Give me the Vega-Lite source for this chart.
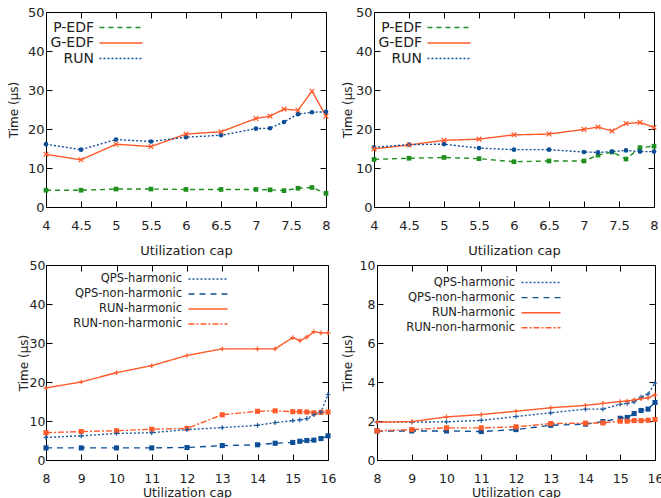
{
  "$schema": "https://vega.github.io/schema/vega-lite/v6.json",
  "padding": {"left": 6, "top": 5, "right": 0, "bottom": 0},
  "background": "white",
  "datasets": {
    "p1": [
      {"x": 4, "s": "P-EDF", "y": 4.3}, {"x": 4.5, "s": "P-EDF", "y": 4.3}, {"x": 5, "s": "P-EDF", "y": 4.6}, {"x": 5.5, "s": "P-EDF", "y": 4.6}, {"x": 6, "s": "P-EDF", "y": 4.5}, {"x": 6.5, "s": "P-EDF", "y": 4.5}, {"x": 7, "s": "P-EDF", "y": 4.5}, {"x": 7.2, "s": "P-EDF", "y": 4.4}, {"x": 7.4, "s": "P-EDF", "y": 4.2}, {"x": 7.6, "s": "P-EDF", "y": 4.8}, {"x": 7.8, "s": "P-EDF", "y": 5.0}, {"x": 8, "s": "P-EDF", "y": 3.5},
      {"x": 4, "s": "G-EDF", "y": 13.5}, {"x": 4.5, "s": "G-EDF", "y": 12.1}, {"x": 5, "s": "G-EDF", "y": 16.1}, {"x": 5.5, "s": "G-EDF", "y": 15.5}, {"x": 6, "s": "G-EDF", "y": 18.7}, {"x": 6.5, "s": "G-EDF", "y": 19.3}, {"x": 7, "s": "G-EDF", "y": 22.7}, {"x": 7.2, "s": "G-EDF", "y": 23.3}, {"x": 7.4, "s": "G-EDF", "y": 25.1}, {"x": 7.6, "s": "G-EDF", "y": 24.8}, {"x": 7.8, "s": "G-EDF", "y": 29.7}, {"x": 8, "s": "G-EDF", "y": 23.3},
      {"x": 4, "s": "RUN", "y": 16.1}, {"x": 4.5, "s": "RUN", "y": 14.7}, {"x": 5, "s": "RUN", "y": 17.3}, {"x": 5.5, "s": "RUN", "y": 16.8}, {"x": 6, "s": "RUN", "y": 17.9}, {"x": 6.5, "s": "RUN", "y": 18.4}, {"x": 7, "s": "RUN", "y": 20.1}, {"x": 7.2, "s": "RUN", "y": 20.2}, {"x": 7.4, "s": "RUN", "y": 21.8}, {"x": 7.6, "s": "RUN", "y": 23.8}, {"x": 7.8, "s": "RUN", "y": 24.3}, {"x": 8, "s": "RUN", "y": 24.4}
    ],
    "p2": [
      {"x": 4, "s": "P-EDF", "y": 12.2}, {"x": 4.5, "s": "P-EDF", "y": 12.5}, {"x": 5, "s": "P-EDF", "y": 12.7}, {"x": 5.5, "s": "P-EDF", "y": 12.4}, {"x": 6, "s": "P-EDF", "y": 11.6}, {"x": 6.5, "s": "P-EDF", "y": 11.8}, {"x": 7, "s": "P-EDF", "y": 11.8}, {"x": 7.2, "s": "P-EDF", "y": 13.3}, {"x": 7.4, "s": "P-EDF", "y": 14.1}, {"x": 7.6, "s": "P-EDF", "y": 12.3}, {"x": 7.8, "s": "P-EDF", "y": 15.2}, {"x": 8, "s": "P-EDF", "y": 15.6},
      {"x": 4, "s": "G-EDF", "y": 14.9}, {"x": 4.5, "s": "G-EDF", "y": 15.9}, {"x": 5, "s": "G-EDF", "y": 17.1}, {"x": 5.5, "s": "G-EDF", "y": 17.4}, {"x": 6, "s": "G-EDF", "y": 18.5}, {"x": 6.5, "s": "G-EDF", "y": 18.7}, {"x": 7, "s": "G-EDF", "y": 19.9}, {"x": 7.2, "s": "G-EDF", "y": 20.5}, {"x": 7.4, "s": "G-EDF", "y": 19.5}, {"x": 7.6, "s": "G-EDF", "y": 21.4}, {"x": 7.8, "s": "G-EDF", "y": 21.7}, {"x": 8, "s": "G-EDF", "y": 20.4},
      {"x": 4, "s": "RUN", "y": 15.3}, {"x": 4.5, "s": "RUN", "y": 16.0}, {"x": 5, "s": "RUN", "y": 16.1}, {"x": 5.5, "s": "RUN", "y": 15.1}, {"x": 6, "s": "RUN", "y": 14.7}, {"x": 6.5, "s": "RUN", "y": 14.7}, {"x": 7, "s": "RUN", "y": 14.1}, {"x": 7.2, "s": "RUN", "y": 14.0}, {"x": 7.4, "s": "RUN", "y": 14.2}, {"x": 7.6, "s": "RUN", "y": 14.5}, {"x": 7.8, "s": "RUN", "y": 14.2}, {"x": 8, "s": "RUN", "y": 14.2}
    ],
    "p3": [
      {"x": 8, "s": "QPS-harmonic", "y": 5.8}, {"x": 9, "s": "QPS-harmonic", "y": 6.2}, {"x": 10, "s": "QPS-harmonic", "y": 6.8}, {"x": 11, "s": "QPS-harmonic", "y": 7.0}, {"x": 12, "s": "QPS-harmonic", "y": 7.8}, {"x": 13, "s": "QPS-harmonic", "y": 8.3}, {"x": 14, "s": "QPS-harmonic", "y": 8.9}, {"x": 14.5, "s": "QPS-harmonic", "y": 9.6}, {"x": 15, "s": "QPS-harmonic", "y": 10.1}, {"x": 15.2, "s": "QPS-harmonic", "y": 10.3}, {"x": 15.4, "s": "QPS-harmonic", "y": 10.6}, {"x": 15.6, "s": "QPS-harmonic", "y": 11.6}, {"x": 15.8, "s": "QPS-harmonic", "y": 12.3}, {"x": 16, "s": "QPS-harmonic", "y": 16.8},
      {"x": 8, "s": "QPS-non-harmonic", "y": 3.1}, {"x": 9, "s": "QPS-non-harmonic", "y": 3.1}, {"x": 10, "s": "QPS-non-harmonic", "y": 3.1}, {"x": 11, "s": "QPS-non-harmonic", "y": 3.1}, {"x": 12, "s": "QPS-non-harmonic", "y": 3.2}, {"x": 13, "s": "QPS-non-harmonic", "y": 3.7}, {"x": 14, "s": "QPS-non-harmonic", "y": 3.9}, {"x": 14.5, "s": "QPS-non-harmonic", "y": 4.3}, {"x": 15, "s": "QPS-non-harmonic", "y": 4.5}, {"x": 15.2, "s": "QPS-non-harmonic", "y": 4.8}, {"x": 15.4, "s": "QPS-non-harmonic", "y": 5.0}, {"x": 15.6, "s": "QPS-non-harmonic", "y": 5.1}, {"x": 15.8, "s": "QPS-non-harmonic", "y": 5.5}, {"x": 16, "s": "QPS-non-harmonic", "y": 6.2},
      {"x": 8, "s": "RUN-harmonic", "y": 18.5}, {"x": 9, "s": "RUN-harmonic", "y": 20.0}, {"x": 10, "s": "RUN-harmonic", "y": 22.4}, {"x": 11, "s": "RUN-harmonic", "y": 24.2}, {"x": 12, "s": "RUN-harmonic", "y": 26.8}, {"x": 13, "s": "RUN-harmonic", "y": 28.5}, {"x": 14, "s": "RUN-harmonic", "y": 28.5}, {"x": 14.5, "s": "RUN-harmonic", "y": 28.5}, {"x": 15, "s": "RUN-harmonic", "y": 31.4}, {"x": 15.2, "s": "RUN-harmonic", "y": 30.6}, {"x": 15.4, "s": "RUN-harmonic", "y": 31.5}, {"x": 15.6, "s": "RUN-harmonic", "y": 32.9}, {"x": 15.8, "s": "RUN-harmonic", "y": 32.6}, {"x": 16, "s": "RUN-harmonic", "y": 32.6},
      {"x": 8, "s": "RUN-non-harmonic", "y": 7.0}, {"x": 9, "s": "RUN-non-harmonic", "y": 7.3}, {"x": 10, "s": "RUN-non-harmonic", "y": 7.5}, {"x": 11, "s": "RUN-non-harmonic", "y": 7.9}, {"x": 12, "s": "RUN-non-harmonic", "y": 8.1}, {"x": 13, "s": "RUN-non-harmonic", "y": 11.6}, {"x": 14, "s": "RUN-non-harmonic", "y": 12.5}, {"x": 14.5, "s": "RUN-non-harmonic", "y": 12.6}, {"x": 15, "s": "RUN-non-harmonic", "y": 12.4}, {"x": 15.2, "s": "RUN-non-harmonic", "y": 12.4}, {"x": 15.4, "s": "RUN-non-harmonic", "y": 12.3}, {"x": 15.6, "s": "RUN-non-harmonic", "y": 12.1}, {"x": 15.8, "s": "RUN-non-harmonic", "y": 12.2}, {"x": 16, "s": "RUN-non-harmonic", "y": 12.3}
    ],
    "p4": [
      {"x": 8, "s": "QPS-harmonic", "y": 1.94}, {"x": 9, "s": "QPS-harmonic", "y": 1.94}, {"x": 10, "s": "QPS-harmonic", "y": 1.96}, {"x": 11, "s": "QPS-harmonic", "y": 2.03}, {"x": 12, "s": "QPS-harmonic", "y": 2.23}, {"x": 13, "s": "QPS-harmonic", "y": 2.42}, {"x": 14, "s": "QPS-harmonic", "y": 2.61}, {"x": 14.5, "s": "QPS-harmonic", "y": 2.61}, {"x": 15, "s": "QPS-harmonic", "y": 2.86}, {"x": 15.2, "s": "QPS-harmonic", "y": 2.9}, {"x": 15.4, "s": "QPS-harmonic", "y": 2.98}, {"x": 15.6, "s": "QPS-harmonic", "y": 3.22}, {"x": 15.8, "s": "QPS-harmonic", "y": 3.38}, {"x": 16, "s": "QPS-harmonic", "y": 3.95},
      {"x": 8, "s": "QPS-non-harmonic", "y": 1.49}, {"x": 9, "s": "QPS-non-harmonic", "y": 1.49}, {"x": 10, "s": "QPS-non-harmonic", "y": 1.49}, {"x": 11, "s": "QPS-non-harmonic", "y": 1.46}, {"x": 12, "s": "QPS-non-harmonic", "y": 1.56}, {"x": 13, "s": "QPS-non-harmonic", "y": 1.78}, {"x": 14, "s": "QPS-non-harmonic", "y": 1.84}, {"x": 14.5, "s": "QPS-non-harmonic", "y": 1.97}, {"x": 15, "s": "QPS-non-harmonic", "y": 2.14}, {"x": 15.2, "s": "QPS-non-harmonic", "y": 2.18}, {"x": 15.4, "s": "QPS-non-harmonic", "y": 2.38}, {"x": 15.6, "s": "QPS-non-harmonic", "y": 2.54}, {"x": 15.8, "s": "QPS-non-harmonic", "y": 2.61}, {"x": 16, "s": "QPS-non-harmonic", "y": 2.95},
      {"x": 8, "s": "RUN-harmonic", "y": 1.94}, {"x": 9, "s": "RUN-harmonic", "y": 1.97}, {"x": 10, "s": "RUN-harmonic", "y": 2.21}, {"x": 11, "s": "RUN-harmonic", "y": 2.33}, {"x": 12, "s": "RUN-harmonic", "y": 2.5}, {"x": 13, "s": "RUN-harmonic", "y": 2.68}, {"x": 14, "s": "RUN-harmonic", "y": 2.8}, {"x": 14.5, "s": "RUN-harmonic", "y": 2.9}, {"x": 15, "s": "RUN-harmonic", "y": 3.0}, {"x": 15.2, "s": "RUN-harmonic", "y": 3.02}, {"x": 15.4, "s": "RUN-harmonic", "y": 3.09}, {"x": 15.6, "s": "RUN-harmonic", "y": 3.14}, {"x": 15.8, "s": "RUN-harmonic", "y": 3.19}, {"x": 16, "s": "RUN-harmonic", "y": 3.34},
      {"x": 8, "s": "RUN-non-harmonic", "y": 1.49}, {"x": 9, "s": "RUN-non-harmonic", "y": 1.56}, {"x": 10, "s": "RUN-non-harmonic", "y": 1.65}, {"x": 11, "s": "RUN-non-harmonic", "y": 1.65}, {"x": 12, "s": "RUN-non-harmonic", "y": 1.7}, {"x": 13, "s": "RUN-non-harmonic", "y": 1.87}, {"x": 14, "s": "RUN-non-harmonic", "y": 1.89}, {"x": 14.5, "s": "RUN-non-harmonic", "y": 1.9}, {"x": 15, "s": "RUN-non-harmonic", "y": 1.99}, {"x": 15.2, "s": "RUN-non-harmonic", "y": 1.99}, {"x": 15.4, "s": "RUN-non-harmonic", "y": 2.02}, {"x": 15.6, "s": "RUN-non-harmonic", "y": 2.02}, {"x": 15.8, "s": "RUN-non-harmonic", "y": 2.04}, {"x": 16, "s": "RUN-non-harmonic", "y": 2.08}
    ]
  },
  "concat": [
    {
      "width": 280, "height": 195,
      "data": {"name": "p1"},
      "layer": [
        {"mark": {"type": "line", "strokeWidth": 1.4},
         "encoding": {
           "x": {"field": "x", "type": "quantitative", "scale": {"domain": [4, 8], "nice": false, "zero": false},
                 "axis": {"values": [4, 4.5, 5, 5.5, 6, 6.5, 7, 7.5, 8], "format": "~r", "title": "Utilization cap", "labelFontSize": 13, "titleFontSize": 13, "labelPadding": 18, "titlePadding": 12}},
           "y": {"field": "y", "type": "quantitative", "scale": {"domain": [0, 50], "nice": false},
                 "axis": {"values": [0, 10, 20, 30, 40, 50], "format": "~r", "title": "Time (µs)", "labelFontSize": 13, "titleFontSize": 12, "labelPadding": 8, "titlePadding": 2, "minExtent": 24, "maxExtent": 24}},
           "color": {"field": "s", "type": "nominal", "scale": {"domain": ["P-EDF", "G-EDF", "RUN"], "range": ["#1f8f1f", "#ff5a2a", "#0d4f96"]},
                     "legend": {"title": null, "orient": "none", "legendX": 68, "legendY": 8.5, "symbolType": "M-4,0L4,0", "symbolSize": 116, "symbolStrokeWidth": 1.4, "labelAlign": "right", "labelOffset": -34, "labelFontSize": 14, "rowPadding": 1.5, "padding": 0}},
           "strokeDash": {"field": "s", "type": "nominal", "scale": {"domain": ["P-EDF", "G-EDF", "RUN"], "range": [[5, 4], [1, 0], [2, 2]]},
                     "legend": {"title": null, "orient": "none", "legendX": 68, "legendY": 8.5, "symbolType": "M-4,0L4,0", "symbolSize": 116, "symbolStrokeWidth": 1.4, "labelAlign": "right", "labelOffset": -34, "labelFontSize": 14, "rowPadding": 1.5, "padding": 0}}
         }},
        {"transform": [{"filter": "datum.s === 'P-EDF'"}], "mark": {"type": "point", "shape": "square", "filled": true, "size": 22, "opacity": 1},
         "encoding": {"x": {"field": "x", "type": "quantitative", "axis": null}, "y": {"field": "y", "type": "quantitative", "axis": null}, "color": {"field": "s", "type": "nominal", "legend": null}}},
        {"transform": [{"filter": "datum.s === 'RUN'"}], "mark": {"type": "point", "shape": "circle", "filled": true, "size": 22, "opacity": 1},
         "encoding": {"x": {"field": "x", "type": "quantitative", "axis": null}, "y": {"field": "y", "type": "quantitative", "axis": null}, "color": {"field": "s", "type": "nominal", "legend": null}}},
        {"transform": [{"filter": "datum.s === 'G-EDF'"}], "mark": {"type": "point", "shape": "M-1,-1L1,1M-1,1L1,-1", "filled": false, "size": 22, "strokeWidth": 1.2, "opacity": 1},
         "encoding": {"x": {"field": "x", "type": "quantitative", "axis": null}, "y": {"field": "y", "type": "quantitative", "axis": null}, "color": {"field": "s", "type": "nominal", "legend": null}}},
        {"mark": {"type": "point", "opacity": 0},
         "encoding": {
           "x": {"field": "x", "type": "quantitative", "axis": {"orient": "top", "labels": false, "title": null, "minExtent": 0, "maxExtent": 0, "values": [4, 4.5, 5, 5.5, 6, 6.5, 7, 7.5, 8]}},
           "y": {"field": "y", "type": "quantitative", "axis": {"orient": "right", "labels": false, "title": null, "minExtent": 0, "maxExtent": 0, "values": [0, 10, 20, 30, 40, 50]}}
         }}
      ],
      "resolve": {"axis": {"x": "independent", "y": "independent"}}
    },
    {
      "width": 280, "height": 195,
      "data": {"name": "p2"},
      "layer": [
        {"mark": {"type": "line", "strokeWidth": 1.4},
         "encoding": {
           "x": {"field": "x", "type": "quantitative", "scale": {"domain": [4, 8], "nice": false, "zero": false},
                 "axis": {"values": [4, 4.5, 5, 5.5, 6, 6.5, 7, 7.5, 8], "format": "~r", "title": "Utilization cap", "labelFontSize": 13, "titleFontSize": 13, "labelPadding": 18, "titlePadding": 12}},
           "y": {"field": "y", "type": "quantitative", "scale": {"domain": [0, 50], "nice": false},
                 "axis": {"values": [0, 10, 20, 30, 40, 50], "format": "~r", "title": "Time (µs)", "labelFontSize": 13, "titleFontSize": 12, "labelPadding": 8, "titlePadding": 1, "minExtent": 19, "maxExtent": 19}},
           "color": {"field": "s", "type": "nominal", "scale": {"domain": ["P-EDF", "G-EDF", "RUN"], "range": ["#1f8f1f", "#ff5a2a", "#0d4f96"]},
                     "legend": {"title": null, "orient": "none", "legendX": 68, "legendY": 8.5, "symbolType": "M-4,0L4,0", "symbolSize": 116, "symbolStrokeWidth": 1.4, "labelAlign": "right", "labelOffset": -34, "labelFontSize": 14, "rowPadding": 1.5, "padding": 0}},
           "strokeDash": {"field": "s", "type": "nominal", "scale": {"domain": ["P-EDF", "G-EDF", "RUN"], "range": [[5, 4], [1, 0], [2, 2]]},
                     "legend": {"title": null, "orient": "none", "legendX": 68, "legendY": 8.5, "symbolType": "M-4,0L4,0", "symbolSize": 116, "symbolStrokeWidth": 1.4, "labelAlign": "right", "labelOffset": -34, "labelFontSize": 14, "rowPadding": 1.5, "padding": 0}}
         }},
        {"transform": [{"filter": "datum.s === 'P-EDF'"}], "mark": {"type": "point", "shape": "square", "filled": true, "size": 22, "opacity": 1},
         "encoding": {"x": {"field": "x", "type": "quantitative", "axis": null}, "y": {"field": "y", "type": "quantitative", "axis": null}, "color": {"field": "s", "type": "nominal", "legend": null}}},
        {"transform": [{"filter": "datum.s === 'RUN'"}], "mark": {"type": "point", "shape": "circle", "filled": true, "size": 22, "opacity": 1},
         "encoding": {"x": {"field": "x", "type": "quantitative", "axis": null}, "y": {"field": "y", "type": "quantitative", "axis": null}, "color": {"field": "s", "type": "nominal", "legend": null}}},
        {"transform": [{"filter": "datum.s === 'G-EDF'"}], "mark": {"type": "point", "shape": "M-1,-1L1,1M-1,1L1,-1", "filled": false, "size": 22, "strokeWidth": 1.2, "opacity": 1},
         "encoding": {"x": {"field": "x", "type": "quantitative", "axis": null}, "y": {"field": "y", "type": "quantitative", "axis": null}, "color": {"field": "s", "type": "nominal", "legend": null}}},
        {"mark": {"type": "point", "opacity": 0},
         "encoding": {
           "x": {"field": "x", "type": "quantitative", "axis": {"orient": "top", "labels": false, "title": null, "minExtent": 0, "maxExtent": 0, "values": [4, 4.5, 5, 5.5, 6, 6.5, 7, 7.5, 8]}},
           "y": {"field": "y", "type": "quantitative", "axis": {"orient": "right", "labels": false, "title": null, "minExtent": 0, "maxExtent": 0, "values": [0, 10, 20, 30, 40, 50]}}
         }}
      ],
      "resolve": {"axis": {"x": "independent", "y": "independent"}}
    },
    {
      "width": 282, "height": 195,
      "data": {"name": "p3"},
      "layer": [
        {"mark": {"type": "line", "strokeWidth": 1.4},
         "encoding": {
           "x": {"field": "x", "type": "quantitative", "scale": {"domain": [8, 16], "nice": false, "zero": false},
                 "axis": {"values": [8, 9, 10, 11, 12, 13, 14, 15, 16], "format": "~r", "title": "Utilization cap", "labelFontSize": 12.5, "titleFontSize": 12.5, "labelPadding": 18, "titlePadding": 2}},
           "y": {"field": "y", "type": "quantitative", "scale": {"domain": [0, 50], "nice": false},
                 "axis": {"values": [0, 10, 20, 30, 40, 50], "format": "~r", "title": "Time (µs)", "labelFontSize": 12.5, "titleFontSize": 12, "labelPadding": 7, "titlePadding": 1, "minExtent": 15, "maxExtent": 15}},
           "color": {"field": "s", "type": "nominal", "scale": {"domain": ["QPS-harmonic", "QPS-non-harmonic", "RUN-harmonic", "RUN-non-harmonic"], "range": ["#1c5a9c", "#0d4f96", "#ff5a2a", "#ff5a2a"]},
                     "legend": {"title": null, "orient": "none", "legendX": 156, "legendY": 8, "symbolType": "M-4,0L4,0", "symbolSize": 95, "symbolStrokeWidth": 1.4, "labelAlign": "right", "labelOffset": -32, "labelFontSize": 11.5, "rowPadding": 3, "padding": 0}},
           "strokeDash": {"field": "s", "type": "nominal", "scale": {"domain": ["QPS-harmonic", "QPS-non-harmonic", "RUN-harmonic", "RUN-non-harmonic"], "range": [[2, 2], [6, 5], [1, 0], [6, 2, 2, 2]]},
                     "legend": {"title": null, "orient": "none", "legendX": 156, "legendY": 8, "symbolType": "M-4,0L4,0", "symbolSize": 95, "symbolStrokeWidth": 1.4, "labelAlign": "right", "labelOffset": -32, "labelFontSize": 11.5, "rowPadding": 3, "padding": 0}}
         }},
        {"transform": [{"filter": "datum.s === 'QPS-non-harmonic' || datum.s === 'RUN-non-harmonic'"}], "mark": {"type": "point", "shape": "square", "filled": true, "size": 26, "opacity": 1},
         "encoding": {"x": {"field": "x", "type": "quantitative", "axis": null}, "y": {"field": "y", "type": "quantitative", "axis": null}, "color": {"field": "s", "type": "nominal", "legend": null}}},
        {"transform": [{"filter": "datum.s === 'QPS-harmonic' || datum.s === 'RUN-harmonic'"}], "mark": {"type": "point", "shape": "M-1,0L1,0M0,-1L0,1", "filled": false, "size": 22, "strokeWidth": 1.2, "opacity": 1},
         "encoding": {"x": {"field": "x", "type": "quantitative", "axis": null}, "y": {"field": "y", "type": "quantitative", "axis": null}, "color": {"field": "s", "type": "nominal", "legend": null}}},
        {"mark": {"type": "point", "opacity": 0},
         "encoding": {
           "x": {"field": "x", "type": "quantitative", "axis": {"orient": "top", "labels": false, "title": null, "minExtent": 0, "maxExtent": 0, "values": [8, 9, 10, 11, 12, 13, 14, 15, 16]}},
           "y": {"field": "y", "type": "quantitative", "axis": {"orient": "right", "labels": false, "title": null, "minExtent": 0, "maxExtent": 0, "values": [0, 10, 20, 30, 40, 50]}}
         }}
      ],
      "resolve": {"axis": {"x": "independent", "y": "independent"}}
    },
    {
      "width": 278, "height": 195,
      "data": {"name": "p4"},
      "layer": [
        {"mark": {"type": "line", "strokeWidth": 1.4},
         "encoding": {
           "x": {"field": "x", "type": "quantitative", "scale": {"domain": [8, 16], "nice": false, "zero": false},
                 "axis": {"values": [8, 9, 10, 11, 12, 13, 14, 15, 16], "format": "~r", "title": "Utilization cap", "labelFontSize": 12.5, "titleFontSize": 12.5, "labelPadding": 18, "titlePadding": 2}},
           "y": {"field": "y", "type": "quantitative", "scale": {"domain": [0, 10], "nice": false},
                 "axis": {"values": [0, 2, 4, 6, 8, 10], "format": "~r", "title": "Time (µs)", "labelFontSize": 12.5, "titleFontSize": 12, "labelPadding": 8, "titlePadding": 1, "minExtent": 22, "maxExtent": 22}},
           "color": {"field": "s", "type": "nominal", "scale": {"domain": ["QPS-harmonic", "QPS-non-harmonic", "RUN-harmonic", "RUN-non-harmonic"], "range": ["#1c5a9c", "#0d4f96", "#ff5a2a", "#ff5a2a"]},
                     "legend": {"title": null, "orient": "none", "legendX": 158, "legendY": 11.5, "symbolType": "M-4,0L4,0", "symbolSize": 95, "symbolStrokeWidth": 1.4, "labelAlign": "right", "labelOffset": -32, "labelFontSize": 11.5, "rowPadding": 3.1, "padding": 0}},
           "strokeDash": {"field": "s", "type": "nominal", "scale": {"domain": ["QPS-harmonic", "QPS-non-harmonic", "RUN-harmonic", "RUN-non-harmonic"], "range": [[2, 2], [6, 5], [1, 0], [6, 2, 2, 2]]},
                     "legend": {"title": null, "orient": "none", "legendX": 158, "legendY": 11.5, "symbolType": "M-4,0L4,0", "symbolSize": 95, "symbolStrokeWidth": 1.4, "labelAlign": "right", "labelOffset": -32, "labelFontSize": 11.5, "rowPadding": 3.1, "padding": 0}}
         }},
        {"transform": [{"filter": "datum.s === 'QPS-non-harmonic' || datum.s === 'RUN-non-harmonic'"}], "mark": {"type": "point", "shape": "square", "filled": true, "size": 26, "opacity": 1},
         "encoding": {"x": {"field": "x", "type": "quantitative", "axis": null}, "y": {"field": "y", "type": "quantitative", "axis": null}, "color": {"field": "s", "type": "nominal", "legend": null}}},
        {"transform": [{"filter": "datum.s === 'QPS-harmonic' || datum.s === 'RUN-harmonic'"}], "mark": {"type": "point", "shape": "M-1,0L1,0M0,-1L0,1", "filled": false, "size": 22, "strokeWidth": 1.2, "opacity": 1},
         "encoding": {"x": {"field": "x", "type": "quantitative", "axis": null}, "y": {"field": "y", "type": "quantitative", "axis": null}, "color": {"field": "s", "type": "nominal", "legend": null}}},
        {"mark": {"type": "point", "opacity": 0},
         "encoding": {
           "x": {"field": "x", "type": "quantitative", "axis": {"orient": "top", "labels": false, "title": null, "minExtent": 0, "maxExtent": 0, "values": [8, 9, 10, 11, 12, 13, 14, 15, 16]}},
           "y": {"field": "y", "type": "quantitative", "axis": {"orient": "right", "labels": false, "title": null, "minExtent": 0, "maxExtent": 0, "values": [0, 2, 4, 6, 8, 10]}}
         }}
      ],
      "resolve": {"axis": {"x": "independent", "y": "independent"}}
    }
  ],
  "columns": 2,
  "align": "none",
  "spacing": {"row": 0, "column": 3},
  "resolve": {"scale": {"color": "independent", "strokeDash": "independent", "x": "independent", "y": "independent"}, "legend": {"color": "independent", "strokeDash": "independent"}},
  "config": {
    "font": "DejaVu Sans",
    "view": {"stroke": "black", "strokeWidth": 1},
    "axis": {"grid": false, "domain": false, "ticks": true, "tickSize": -6, "tickColor": "black", "tickWidth": 1, "labelColor": "#222", "titleColor": "#222", "labelFont": "DejaVu Sans", "titleFont": "DejaVu Sans", "titleFontWeight": "normal", "labelFlush": false, "labelOverlap": false},
    "legend": {"labelFont": "DejaVu Sans", "labelColor": "#222"}
  }
}
